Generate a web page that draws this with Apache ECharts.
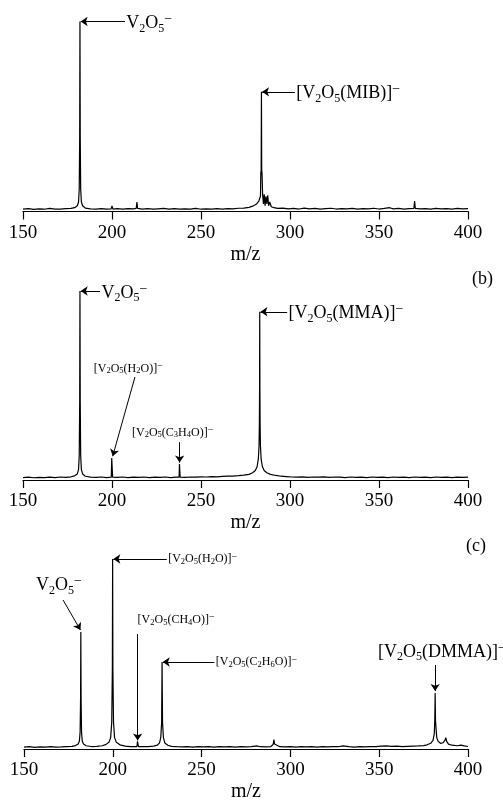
<!DOCTYPE html>
<html>
<head>
<meta charset="utf-8">
<script src="https://cdn.jsdelivr.net/npm/echarts@6/dist/echarts.min.js"></script>
<style>
  html, body { margin: 0; padding: 0; background: #fff; }
  #main { width: 503px; height: 804px; }
</style>
</head>
<body>
<div id="main"></div>
<script>
// spectra, [m/z, relative intensity]
var specA = [
  [150,1.2],[153,1.5],[156,1.1],[159,1.4],[162,1.2],[165,1.6],[168,1.3],[171,1.2],[174,1.5],[177,1.6],
  [179,2],[180.5,3],[181.2,5],[181.6,12],[181.85,40],[182,100],[182.15,40],[182.4,12],[182.8,5],[183.5,3],
  [185,1.8],[188,1.4],[191,1.3],[194,1.5],[197,1.2],[199.5,1.4],[200,3],[200.5,1.3],[203,1.5],[206,1.2],
  [209,1.5],[212,1.4],[213.6,1.6],[214,5],[214.4,1.6],[217,1.3],[220,1.5],[223,1.2],[226,1.4],[229,1.6],
  [232,1.3],[235,1.5],[238,1.2],[241,1.4],[244,1.3],[247,1.6],[250,1.2],[253,1.4],[256,1.3],[259,1.5],
  [262,1.2],[265,1.5],[268,1.4],[271,1.7],[274,1.8],[277,2.2],[279,2.8],[281,3.8],[282.5,5.5],[283.4,8],
  [283.6,20],[283.8,22],[283.95,63],[284.1,22],[284.3,20],[284.6,9],[285.1,4],[285.5,9],[286,3],[286.5,8],
  [287,4],[287.5,8.5],[288,3],[288.6,5],[289.5,2.5],[291,2],[293,1.6],[296,1.8],[299,1.4],[302,1.6],
  [305,1.3],[308,1.8],[311,1.4],[314,1.6],[317,1.3],[320,1.5],[323,1.7],[326,1.3],[329,1.5],[332,1.4],
  [335,1.6],[338,1.3],[341,1.5],[344,1.4],[347,1.7],[350,1.3],[353,1.6],[356,2],[358,1.4],[361,1.6],
  [364,1.3],[367,1.5],[369.6,1.6],[370,5.5],[370.4,1.6],[373,1.4],[376,1.5],[379,1.3],[382,1.6],[385,1.4],
  [388,1.5],[391,1.3],[394,1.6],[397,1.4],[400,1.5]
];
var specB = [
  [150,1.3],[153,1.5],[156,1.2],[159,1.4],[162,1.3],[165,1.5],[168,1.3],[171,1.6],[174,1.4],[177,1.7],
  [179,2.2],[180.5,3.2],[181.2,5.5],[181.6,13],[181.85,42],[182,100],[182.15,42],[182.4,13],[182.8,5.5],[183.5,3.2],
  [185,2],[188,1.5],[191,1.4],[194,1.6],[197,1.3],[199.6,1.5],[199.85,11.6],[200.1,11.6],[200.35,1.5],[203,1.4],
  [206,1.6],[209,1.3],[212,1.5],[215,1.4],[218,1.6],[221,1.3],[224,1.5],[227,1.4],[230,1.6],[233,1.3],
  [236,1.5],[237.7,1.5],[237.9,8.5],[238.1,8.5],[238.3,1.5],[241,1.4],[244,1.6],[247,1.5],[250,1.7],[253,1.6],
  [256,1.8],[259,1.7],[262,1.9],[265,2],[268,2.1],[271,2.3],[274,2.6],[277,3],[279,3.8],[280.5,5],
  [281.5,7],[282.2,11],[282.6,18],[282.8,30],[282.9,46],[283,89],[283.1,46],[283.2,30],[283.4,18],[283.8,11],
  [284.5,7],[285.5,5],[287,3.8],[289,3],[292,2.4],[295,2],[298,1.8],[301,1.6],[304,1.5],[307,1.7],
  [310,1.4],[313,1.6],[316,1.5],[319,1.7],[322,1.4],[325,1.6],[328,1.5],[331,1.3],[334,1.6],[337,1.4],
  [340,1.5],[343,1.3],[346,1.6],[349,1.4],[352,1.5],[355,1.3],[358,1.6],[361,1.4],[364,1.5],[367,1.3],
  [370,1.6],[373,1.4],[376,1.5],[379,1.3],[382,1.6],[385,1.4],[388,1.5],[391,1.3],[394,1.5],[397,1.4],
  [400,1.5]
];
var specC = [
  [150,1],[153,1.2],[156,0.9],[159,1.1],[162,1],[165,1.2],[168,1],[171,1.1],[174,1.3],[177,1.4],
  [179,1.8],[180.5,2.6],[181.2,4.2],[181.6,9],[181.85,26],[182,61.6],[182.15,26],[182.4,9],[182.8,4.2],[183.5,2.6],
  [185,1.7],[188,1.3],[191,1.4],[194,1.7],[196,2.3],[197.8,3.5],[198.8,6],[199.4,14],[199.75,42],[199.9,100],
  [200.05,42],[200.4,14],[201,6],[202,3.5],[204,2.2],[207,1.5],[210,1.3],[212,1.2],[213.6,1.3],[213.9,4],
  [214.2,4],[214.5,1.3],[217,1.2],[220,1.3],[223,1.5],[225,2],[226.3,3.2],[227,6],[227.5,14],[227.75,45.8],
  [228,14],[228.5,6],[229.3,3.2],[231,2],[233,1.4],[236,1.2],[239,1.1],[242,1.3],[245,1],[248,1.2],
  [251,1.1],[254,1.3],[257,1],[260,1.2],[263,1.1],[266,1.3],[269,1],[272,1.2],[275,1.1],[278,1.3],
  [281,1.6],[283,1.2],[286,1.1],[289,1.3],[290.3,2.4],[290.7,5],[291.1,2.6],[292,1.6],[294,1.2],[297,1.1],
  [300,1.3],[303,1],[306,1.2],[309,1.1],[312,1.3],[315,1],[318,1.2],[321,1.1],[324,1.3],[327,1.2],
  [329.6,1.6],[330,2.5],[330.5,1.5],[333,1.2],[336,1],[339,1.2],[342,1.1],[345,1.3],[348,1.2],[351,1.5],
  [354,1.6],[357,1.4],[360,1.5],[363,1.3],[366,1.4],[369,1.5],[372,1.6],[375,1.8],[377,2.2],[379,3],
  [380.3,4.5],[381,8],[381.3,15],[381.5,29.5],[381.7,15],[382,14],[382.4,6],[383.2,4],[384.5,3],[386,3.3],
  [387,4.5],[387.5,6],[388,4],[389,2.6],[391,2],[394,1.7],[396,2],[398,1.6],[400,1.3]
];

var xTicks = [150, 200, 250, 300, 350, 400];
var panelTags = ['(b)', '(c)'];

// annotations: label text, anchor [m/z, intensity], big font or not
var notesA = [
  { text: 'V_2O_5^−', at: [207.5, 99], big: true },
  { text: '[V_2O_5(MIB)]^−', at: [303, 62], big: true }
];
var arrowsA = [ [[207.3, 100], [182.4, 100]], [[302.8, 63], [284.3, 63]] ];

var notesB = [
  { text: 'V_2O_5^−', at: [193.5, 99], big: true },
  { text: '[V_2O_5(MMA)]^−', at: [298.6, 88], big: true },
  { text: '[V_2O_5(H_2O)]^−', at: [189.2, 59], big: false },
  { text: '[V_2O_5(C_3H_4O)]^−', at: [210.7, 25], big: false }
];
var arrowsB = [
  [[193.3, 100], [182.4, 100]],
  [[298.4, 89], [283.4, 89]],
  [[212.9, 54.5], [200.4, 12.6]],
  [[238, 20], [238, 9.2]]
];

var notesC = [
  { text: 'V_2O_5^−', at: [156.2, 86], big: true },
  { text: '[V_2O_5(H_2O)]^−', at: [230.6, 100], big: false },
  { text: '[V_2O_5(CH_4O)]^−', at: [213.4, 68], big: false },
  { text: '[V_2O_5(C_2H_6O)]^−', at: [257.4, 45.8], big: false },
  { text: '[V_2O_5(DMMA)]^−', at: [348.8, 51], big: true }
];
var arrowsC = [
  [[172, 78.4], [181.8, 62.6]],
  [[230.4, 100], [200.3, 100]],
  [[214, 60.5], [214, 4.5]],
  [[257.2, 45.8], [228.1, 45.8]],
  [[381.5, 44.2], [381.5, 30.5]]
];

var FONT = 'Liberation Serif';

function chem(s) {
  var out = '', buf = '';
  for (var i = 0; i < s.length; i++) {
    var c = s[i];
    if (c === '_' || c === '^') {
      if (buf) { out += '{n|' + buf + '}'; buf = ''; }
      out += '{' + (c === '_' ? 's' : 'p') + '|' + s[i + 1] + '}';
      i++;
    } else {
      buf += c;
    }
  }
  if (buf) out += '{n|' + buf + '}';
  return out;
}

function richFor(big) {
  var f = big ? 18 : 12;
  var sf = big ? 12 : 8.5;
  var pf = big ? 14 : 10;
  return {
    n: { fontFamily: FONT, fontSize: f, color: '#000', lineHeight: Math.round(f * 1.2) },
    s: { fontFamily: FONT, fontSize: sf, color: '#000', lineHeight: big ? 7 : 5, verticalAlign: 'bottom' },
    p: { fontFamily: FONT, fontSize: pf, color: '#000', lineHeight: big ? 8 : 5, verticalAlign: 'top' }
  };
}

function buildSeries(idx, data, notes, arrows) {
  return {
    type: 'line',
    xAxisIndex: idx,
    yAxisIndex: idx,
    data: data,
    symbol: 'none',
    showSymbol: false,
    silent: true,
    lineStyle: { color: '#000', width: 1.2 },
    markLine: {
      silent: true,
      symbol: ['none', 'arrow'],
      symbolSize: 7,
      label: { show: false },
      lineStyle: { color: '#000', width: 1, type: 'solid' },
      data: arrows.map(function (a) {
        return [{ coord: a[0] }, { coord: a[1] }];
      })
    },
    markPoint: {
      silent: true,
      symbol: 'circle',
      symbolSize: 0,
      data: notes.map(function (n) {
        return {
          coord: n.at,
          label: {
            show: true,
            position: 'right',
            distance: 1,
            formatter: chem(n.text),
            rich: richFor(n.big)
          }
        };
      })
    }
  };
}

var chart = echarts.init(document.getElementById('main'));

var grids = [
  { left: 23, right: 35, top: 21.5, height: 190 },
  { left: 23, right: 35, top: 291, height: 189 },
  { left: 24, right: 35, top: 559, height: 190 }
];

var xAxes = grids.map(function (g, i) {
  return {
    type: 'value',
    gridIndex: i,
    min: xTicks[0],
    max: xTicks[xTicks.length - 1],
    interval: xTicks[1] - xTicks[0],
    name: 'm/z',
    nameLocation: 'middle',
    nameGap: 33,
    nameTextStyle: { fontFamily: FONT, fontSize: 20, color: '#000' },
    axisLine: { lineStyle: { color: '#000', width: 1.2 } },
    axisTick: { length: 8, lineStyle: { color: '#000', width: 1.2 } },
    axisLabel: { fontFamily: FONT, fontSize: 19, color: '#000', margin: 12 },
    splitLine: { show: false }
  };
});

var yAxes = grids.map(function (g, i) {
  return { type: 'value', gridIndex: i, min: 0, max: 100, show: false };
});

var tagStyle = { fontFamily: FONT, fontSize: 18, fontWeight: 'normal', color: '#000' };

chart.setOption({
  animation: false,
  backgroundColor: '#fff',
  title: [
    { text: panelTags[0], right: 10, top: 270, padding: 0, textStyle: tagStyle },
    { text: panelTags[1], right: 17, top: 537, padding: 0, textStyle: tagStyle }
  ],
  grid: grids,
  xAxis: xAxes,
  yAxis: yAxes,
  series: [
    buildSeries(0, specA, notesA, arrowsA),
    buildSeries(1, specB, notesB, arrowsB),
    buildSeries(2, specC, notesC, arrowsC)
  ]
});
</script>
</body>
</html>
